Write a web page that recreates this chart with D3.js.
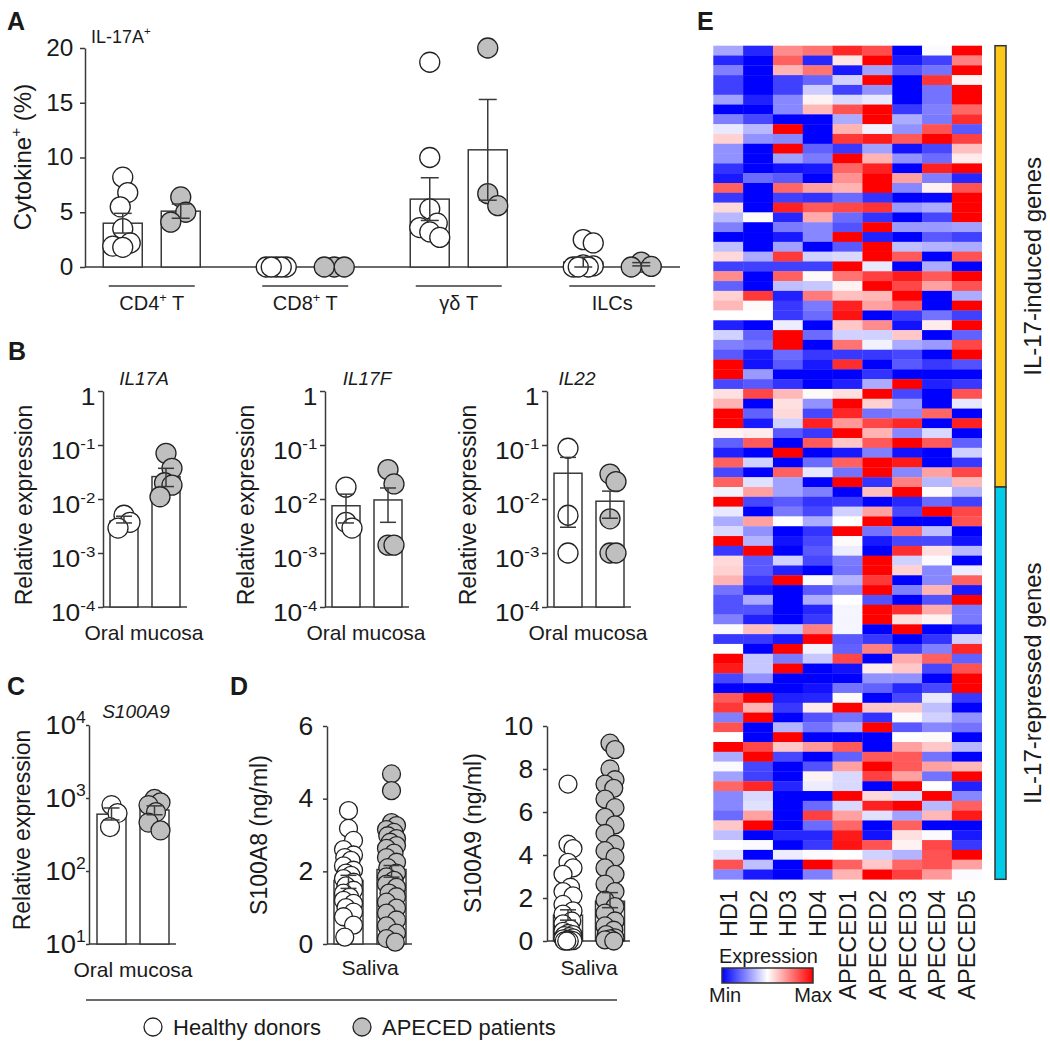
<!DOCTYPE html>
<html><head><meta charset="utf-8">
<script src="https://cdn.jsdelivr.net/npm/d3@7"></script>
<style>body{margin:0;background:#fff}svg{display:block}</style>
</head><body>
<svg id="fig" width="1050" height="1044"></svg>
<script>
// ================= DATA =================
const seriesNames = ["Healthy donors", "APECED patients"];

// Panel A: IL-17A+ cytokine %
const groupsA = ["CD4^{+} T", "CD8^{+} T", "γδ T", "ILCs"];
const aTicks = [0, 5, 10, 15, 20];
const aHDMean = [4.0, 0, 6.2, 0.45];
const aHDSem  = [0.9, 0, 1.95, 0.45];
const aAPMean = [5.1, 0, 10.7, 0.25];
const aAPSem  = [0.65, 0, 4.6, 0.15];
const aHDPoints = [[8.2, 6.8, 5.5, 3.5, 2.2, 1.9, 1.8], [0, 0, 0, 0, 0], [18.7, 10.0, 5.3, 4.0, 3.6, 3.2, 2.7], [2.5, 2.2, 0.2, 0.1, 0, 0, 0]];
const aAPPoints = [[6.4, 5.0, 4.1], [0, 0, 0], [20.0, 6.7, 5.6], [0.45, 0.05, 0]];

// Panel B: relative expression in oral mucosa (log)
const bGenes = ["IL17A", "IL17F", "IL22"];
const bTicks = [1e-4, 1e-3, 1e-2, 1e-1, 1];
const bTickLabels = ["10^{-4}", "10^{-3}", "10^{-2}", "10^{-1}", "1"];
const bHDMean = [0.0039, 0.0075, 0.030];
const bHDLow  = [0.0036, 0.0036, 0.003];
const bHDHigh = [0.0048, 0.0123, 0.059];
const bAPMean = [0.026, 0.0096, 0.0091];
const bAPLow  = [0.017, 0.0037, 0.0044];
const bAPHigh = [0.037, 0.016, 0.014];
const bHDPoints = [[0.005, 0.0037, 0.0029], [0.0166, 0.0037, 0.0029], [0.087, 0.005, 0.001]];
const bAPPoints = [[0.07, 0.037, 0.02, 0.018, 0.011], [0.035, 0.019, 0.0014, 0.0014], [0.029, 0.021, 0.0043, 0.001, 0.001]];

// Panel C: S100A9 relative expression (log)
const cTicks = [10, 100, 1000, 10000];
const cTickLabels = ["10^{1}", "10^{2}", "10^{3}", "10^{4}"];
const cHDMean = 600, cHDLow = 500, cHDHigh = 730;
const cAPMean = 685, cAPLow = 590, cAPHigh = 780;
const cHDPoints = [800, 620, 400];
const cAPPoints = [970, 870, 800, 640, 460, 360];

// Panel D: saliva proteins (ng/ml)
const d8Ticks = [0, 2, 4, 6];
const d8HDMean = 1.75, d8HDLow = 1.53, d8HDHigh = 1.89;
const d8APMean = 2.05, d8APLow = 1.84, d8APHigh = 2.16;
const d8HDPoints = [3.67, 3.18, 2.85, 2.6, 2.45, 2.38, 2.3, 2.15, 2.03, 1.95, 1.89, 1.8, 1.7, 1.6, 1.48, 1.4, 1.29, 1.2, 1.12, 1.0, 0.88, 0.75, 0.52, 0.19];
const d8APPoints = [4.68, 4.22, 3.34, 3.26, 3.15, 3.07, 2.98, 2.9, 2.8, 2.71, 2.63, 2.5, 2.38, 2.25, 2.1, 1.95, 1.85, 1.75, 1.65, 1.56, 1.4, 1.3, 1.15, 0.99, 0.85, 0.66, 0.5, 0.3, 0.15, 0.05];
const d9Ticks = [0, 2, 4, 6, 8, 10];
const d9HDMean = 1.2, d9HDLow = 0.97, d9HDHigh = 1.45;
const d9APMean = 1.85, d9APLow = 1.55, d9APHigh = 2.25;
const d9HDPoints = [7.3, 4.5, 4.3, 3.66, 3.4, 3.1, 2.5, 2.3, 2.1, 1.7, 1.4, 1.25, 0.93, 0.8, 0.55, 0.45, 0.35, 0.3, 0.25, 0.2, 0.15, 0.1, 0.1, 0.05, 0.05, 0.02, 0, 0, 0];
const d9APPoints = [9.2, 8.9, 8.0, 7.5, 7.3, 7.1, 6.6, 6.2, 5.75, 5.4, 5.0, 4.5, 4.2, 3.9, 3.4, 3.1, 2.65, 2.3, 1.9, 1.6, 1.3, 0.93, 0.7, 0.5, 0.3, 0.15, 0.1, 0.05, 0];

// Panel E: heatmap (scaled expression, -1 = min, 1 = max)
const heatSamples = ["HD1", "HD2", "HD3", "HD4", "APECED1", "APECED2", "APECED3", "APECED4", "APECED5"];
const geneGroups = ["IL-17-induced genes", "IL-17-repressed genes"];
const geneGroupSizes = [45, 40];
const heatValues = [
[-0.35,-0.85,0.45,0.55,0.85,0.7,-1,-0.02,1],
[-0.85,-1,0.62,-0.85,0.1,1,-0.9,-0.75,0.5],
[-0.5,-1,0.3,0.55,-0.9,-0.37,-0.68,-0.55,1],
[-0.75,-1,-0.75,-0.6,-0.18,1,-1,0.8,0.05],
[-0.75,-1,-0.75,-0.2,-0.75,-0.43,-1,-0.55,1],
[-0.37,-0.87,-0.47,0.05,-0.15,-0.09,-1,-0.55,1],
[-1,-1,-0.47,0.28,0.68,1,-0.78,-0.5,0.6],
[-0.5,-0.72,-1,-1,-0.33,1,-0.33,-0.52,0.82],
[-0.09,-0.28,1,-1,0.3,-0.05,-0.43,0.68,-0.65],
[0.18,-0.43,-0.47,-1,0.78,0.9,0.65,1,0.75],
[-0.43,-1,1,-0.62,-0.78,-0.37,-0.93,-0.72,0.25],
[-0.43,-1,-0.37,-0.52,1,0.3,-0.43,-0.58,0.08],
[-0.8,-1,-0.93,-0.9,0.6,0.87,-1,0.87,1],
[-0.9,-0.58,-0.65,-1,0.43,1,0.37,-0.5,-0.85],
[0.62,-1,0.6,0.37,0.3,1,-0.47,0.05,0.68],
[-0.78,-1,-0.75,-0.8,-0.58,-0.8,-1,-0.97,1],
[0.15,-1,0.87,0.65,0.72,0.8,-0.4,-0.33,1],
[-0.28,0.02,-0.85,0.33,-0.58,-0.8,-1,-0.72,1],
[-0.5,-1,-0.52,-0.47,-0.68,1,-0.4,-0.4,-0.37],
[-1,-1,-0.9,-0.47,1,-0.87,-1,-0.65,-0.75],
[-0.25,-1,-0.37,-1,-0.65,1,-0.25,-0.3,-0.33],
[0.15,-0.33,0.78,-0.18,-0.15,1,0.65,-1,0.68],
[-0.75,-0.75,-0.75,-0.75,1,-0.09,-1,-0.33,-1],
[0.45,-1,0.62,0.02,0.55,0.75,0.9,0.65,1],
[-0.62,-1,-0.25,-0.22,0.05,1,0.72,0.37,0.68],
[0.18,0.78,-0.87,0.52,0.25,0.28,1,-1,-0.33],
[0.28,0.02,-0.78,-0.52,0.87,0.37,0.65,-1,1],
[0,0,-0.78,-0.58,0.93,-1,-0.78,-0.55,-0.75],
[-0.87,-1,-0.07,-1,0.22,0.45,-0.93,0.08,1],
[-0.18,-0.62,1,-0.58,-0.18,-0.18,0.22,-1,-0.62],
[-0.5,-0.55,1,-1,0.55,-0.05,-0.33,-0.4,0.72],
[-0.65,-0.9,-0.58,-0.78,-0.78,-0.78,-0.72,-1,1],
[1,-0.93,-0.65,-0.9,0.82,-1,-0.65,-0.78,-0.68],
[1,-0.4,-1,-1,-1,-0.8,-1,-1,-1],
[-0.72,-0.65,-0.8,-1,-0.87,-0.33,1,-0.87,-0.78],
[0.12,0.72,0.28,0.02,0.12,1,-0.72,-1,0.68],
[0.3,-1,0.12,-0.43,1,0.18,-0.4,-1,-0.09],
[1,-0.62,0.15,-0.72,0.85,-0.55,-0.47,0.6,-1],
[1,-0.9,-0.18,0.87,0.4,0.72,0.85,-1,0.87],
[0.05,0.08,-0.65,-0.78,1,0.3,-0.47,-0.15,-1],
[-0.62,0.65,-1,0.65,0.22,0.65,1,0.65,-0.62],
[-0.87,-1,1,-1,-0.9,-0.5,-0.93,-1,-0.18],
[0.62,-0.18,-1,-0.58,0.62,1,0.9,-1,-0.78],
[-0.72,-1,0.62,-0.09,-0.55,1,-0.47,0.37,0.72],
[0.62,-0.12,-0.37,-1,1,-0.8,0.5,-0.28,0.28],
[-0.05,0.37,-0.37,-0.5,-1,0.25,1,0.02,-0.3],
[1,-0.72,-0.65,-0.8,-0.78,-1,-0.85,-0.58,-0.75],
[-0.09,-1,-0.52,-0.72,-0.18,0.37,-0.72,1,0.72],
[-0.33,0.37,0,-0.33,0,1,-1,-1,0.68],
[-0.15,-0.43,-1,-0.8,1,-0.55,0.6,-0.25,-1],
[1,-0.3,-0.93,-0.72,0.02,-0.9,-0.72,-0.72,-0.93],
[-0.78,1,-1,-0.65,-0.07,-1,0.82,0.12,-0.28],
[0.15,-0.65,-0.18,-0.72,-0.52,1,-0.18,-0.02,-1],
[0.18,-0.65,-0.87,-1,-0.55,1,0.18,-0.47,-0.07],
[0.3,-0.78,1,-0.02,-0.3,0.78,-1,-0.47,0.62],
[-0.55,-0.9,-1,-0.65,-0.47,1,-0.5,0.3,-0.9],
[-0.68,-0.33,-1,-0.33,0,-0.68,-1,-0.68,1],
[-0.68,-0.68,-1,-0.85,-0.04,1,0.82,0.33,-0.52],
[-0.5,-0.87,-1,-0.78,-0.04,1,0.12,0.05,-0.52],
[-0.02,0.25,-0.22,0.5,-0.04,-1,1,-1,-0.9],
[-0.78,-0.78,-0.9,1,-0.65,-0.78,-1,-0.8,-0.18],
[0,-1,1,-0.05,-0.62,0.5,-0.75,-0.5,0.85],
[1,-0.22,-0.52,-0.22,0.72,-1,0.33,0.62,-0.62],
[0.9,-0.22,1,-1,-0.93,0.08,0.22,-0.72,0.68],
[-0.72,-0.43,-1,-1,-1,-0.43,-0.43,-1,1],
[-1,-1,-1,-0.93,-0.55,-0.62,-0.85,-0.72,1],
[0.65,1,-0.87,-0.85,0.02,-1,-0.72,-0.09,-0.78],
[0.78,0.3,-0.78,0.08,1,0.22,0.22,-0.25,-1],
[-0.5,1,-1,-0.68,-0.55,-0.8,0.02,-0.18,-0.43],
[0.68,-1,-0.3,-0.55,-0.33,1,-0.65,-0.47,-0.55],
[0,-1,1,-1,-1,-1,0,0.02,-1],
[1,0.72,0.22,0.4,0.65,-1,0.37,0.22,-0.28],
[-0.33,1,-0.72,-1,-0.62,0.65,0.65,-0.55,-1],
[-0.02,-0.72,-1,-0.68,0.37,1,0.65,0.37,0.28],
[-0.37,-0.75,-1,0.05,-0.15,0.75,0.37,-0.55,1],
[0.6,0.85,-0.85,-0.07,-0.15,-1,1,0,-0.87],
[-0.47,-0.15,-1,-1,1,0.15,-0.15,1,-0.47],
[-0.47,-0.12,-1,-0.58,-0.15,0.87,1,-0.28,0.62],
[-0.58,0.37,-1,0.75,0.37,-0.12,-0.37,0.28,0.9],
[0.22,1,-1,-0.58,0.6,-1,0.62,-1,-1],
[-0.25,-1,-0.85,-0.85,0.9,-0.93,0.12,-0.02,-0.9],
[0,-0.02,-1,-0.78,0.93,0.68,0.05,0.72,-0.78],
[-0.12,-1,-0.07,-0.02,0,-0.18,-0.3,0.68,1],
[0.68,-0.25,-1,1,0.62,0.22,0.6,0.68,0.37],
[-0.47,-0.9,-1,-0.5,0.3,1,0.75,0.4,-0.02]
];

// ================= DRAWING =================
const FONT = '"Liberation Sans", Arial, Helvetica, sans-serif';
const INK = "#1a1a1a", LINE = "#3a3a3a", PT_STROKE = "#222";
const seriesFill = ["#ffffff", "#bfbfbf"];
const svg = d3.select("#fig");

function rich(t, str, fs) {
  const parts = str.split(/(\^\{[^}]*\})/).filter(s => s.length);
  let up = false;
  parts.forEach(p => {
    if (p.startsWith("^{")) {
      t.append("tspan").attr("font-size", fs * 0.64).attr("dy", -fs * 0.42).text(p.slice(2, -1));
      up = true;
    } else {
      const ts = t.append("tspan").attr("font-size", fs).text(p);
      if (up) { ts.attr("dy", fs * 0.42); up = false; }
    }
  });
}
function label(x, y, str, o = {}) {
  const fs = o.size || 20;
  const t = svg.append("text")
    .attr("transform", `translate(${x},${y})` + (o.sx ? ` scale(${o.sx},1)` : "") + (o.rotate ? ` rotate(${o.rotate})` : ""))
    .attr("text-anchor", o.anchor || "start").attr("font-size", fs).attr("fill", INK)
    .attr("font-family", o.family || FONT);
  if (o.weight) t.attr("font-weight", o.weight);
  if (o.italic) t.attr("font-style", "italic");
  rich(t, str, fs);
  return t;
}
function styleAxis(g, fs, fmt, shift, sx) {
  g.select(".domain").attr("stroke", LINE).attr("stroke-width", 1.5);
  g.selectAll(".tick line").attr("stroke", LINE).attr("stroke-width", 1.5);
  g.selectAll(".tick text").attr("fill", INK).attr("font-size", fs).attr("font-family", FONT)
    .each(function (d, i) {
      const s = d3.select(this);
      if (fmt) { s.text(null); rich(s, fmt(d, i), fs); }
      if (shift) s.attr("y", shift);
      if (sx) s.attr("transform", `scale(${sx},1)`);
    });
}
function dodge(ys, r, maxOff) {
  const placed = [], out = [];
  const step = Math.max(1, maxOff / 4);
  const cands = [0];
  for (let k = step; k <= maxOff + 1e-6; k += step) cands.push(k, -k);
  ys.forEach(y => {
    let best = 0, bestD = -1;
    for (const c of cands) {
      let md = Infinity;
      for (const p of placed) { const d = Math.hypot(p[0] - c, p[1] - y); if (d < md) md = d; }
      if (md >= 1.6 * r) { best = c; break; }
      if (md > bestD) { bestD = md; best = c; }
    }
    placed.push([best, y]); out.push(best);
  });
  return out;
}
// one series column: bar, points, error bar
function column(cx, y, base, mean, lo, hi, pts, s, r, bw, maxOff, cap) {
  const g = svg.append("g");
  if (mean > 0 && base - y(mean) > 0.5)
    g.append("rect").attr("x", cx - bw / 2).attr("y", y(mean)).attr("width", bw).attr("height", base - y(mean))
      .attr("fill", "#fff").attr("stroke", LINE).attr("stroke-width", 1.5);
  const ys = pts.map(v => y(v));
  const off = dodge(ys, r, maxOff);
  g.selectAll("circle.pt").data(pts).join("circle").attr("class", "pt")
    .attr("cx", (d, i) => cx + off[i]).attr("cy", (d, i) => ys[i]).attr("r", r)
    .attr("fill", seriesFill[s]).attr("stroke", PT_STROKE).attr("stroke-width", 1.3);
  if (hi > lo) {
    const e = g.append("g").attr("stroke", LINE).attr("stroke-width", 1.5);
    e.append("line").attr("x1", cx).attr("x2", cx).attr("y1", y(lo)).attr("y2", y(hi));
    [lo, hi].forEach(v => e.append("line").attr("x1", cx - cap / 2).attr("x2", cx + cap / 2).attr("y1", y(v)).attr("y2", y(v)));
  }
}

// ---------- Panel A ----------
label(7, 30, "A", { size: 25, weight: "bold" });
const yA = d3.scaleLinear().domain([0, 20]).range([267, 48]);
const xA = d3.scaleBand().domain(groupsA).range([75, 689]);
const subA = d3.scalePoint().domain(seriesNames).range([-29, 29]);
const axA = svg.append("g").attr("transform", "translate(85,0)")
  .call(d3.axisLeft(yA).tickValues(aTicks).tickSize(5).tickSizeOuter(0).tickPadding(6));
styleAxis(axA, 23, null, 0, 1.06);
svg.append("line").attr("x1", 85).attr("x2", 680).attr("y1", yA(0)).attr("y2", yA(0)).attr("stroke", LINE).attr("stroke-width", 1.5);
groupsA.forEach((gname, i) => {
  const c = xA(gname) + xA.bandwidth() / 2;
  column(c + subA(seriesNames[0]), yA, yA(0), aHDMean[i], aHDMean[i] - aHDSem[i], aHDMean[i] + aHDSem[i], aHDPoints[i], 0, 10, 39, 10, 18);
  column(c + subA(seriesNames[1]), yA, yA(0), aAPMean[i], aAPMean[i] - aAPSem[i], aAPMean[i] + aAPSem[i], aAPPoints[i], 1, 10, 39, 10, 18);
  svg.append("line").attr("x1", c - 43).attr("x2", c + 43).attr("y1", 286).attr("y2", 286).attr("stroke", LINE).attr("stroke-width", 1.5);
  label(c, 310, gname, { size: 20, anchor: "middle" });
});
label(91, 43, "IL-17A^{+}", { size: 18 });
label(31, 157, "Cytokine^{+} (%)", { size: 24, anchor: "middle", rotate: -90 });

// ---------- Panel B ----------
label(8, 360, "B", { size: 25, weight: "bold" });
const yB = d3.scaleLog().domain([1e-4, 1]).range([607, 391]);
const bX0 = [103, 325, 547];
const bTitleX = [41, 42, 30];
bGenes.forEach((gene, i) => {
  const x0 = bX0[i];
  const ax = svg.append("g").attr("transform", `translate(${x0},0)`)
    .call(d3.axisLeft(yB).tickValues(bTicks).tickSize(5).tickSizeOuter(0).tickPadding(2));
  styleAxis(ax, 24, (d) => bTickLabels[bTicks.indexOf(d)], 6, 1.1);
  svg.append("line").attr("x1", x0).attr("x2", x0 + 84).attr("y1", yB(1e-4)).attr("y2", yB(1e-4)).attr("stroke", LINE).attr("stroke-width", 1.5);
  column(x0 + 21, yB, yB(1e-4), bHDMean[i], bHDLow[i], bHDHigh[i], bHDPoints[i], 0, 10, 28, 6, 16);
  column(x0 + 63, yB, yB(1e-4), bAPMean[i], bAPLow[i], bAPHigh[i], bAPPoints[i], 1, 10, 28, 6, 16);
  label(x0 + bTitleX[i], 385, gene, { size: 19, anchor: "middle", italic: true });
  label(x0 - 71, 505, "Relative expression", { size: 23, anchor: "middle", rotate: -90 });
  label(x0 + 41, 640, "Oral mucosa", { size: 21, anchor: "middle" });
});

// ---------- Panel C ----------
label(7, 695, "C", { size: 25, weight: "bold" });
const yC = d3.scaleLog().domain([10, 1e4]).range([944, 725]);
{
  const x0 = 89;
  const ax = svg.append("g").attr("transform", `translate(${x0},0)`)
    .call(d3.axisLeft(yC).tickValues(cTicks).tickSize(3).tickSizeOuter(0).tickPadding(0));
  styleAxis(ax, 25, (d) => cTickLabels[cTicks.indexOf(d)], 0, 1.1);
  svg.append("line").attr("x1", x0).attr("x2", x0 + 87).attr("y1", yC(10)).attr("y2", yC(10)).attr("stroke", LINE).attr("stroke-width", 1.5);
  column(x0 + 22.5, yC, yC(10), cHDMean, cHDLow, cHDHigh, cHDPoints, 0, 9.5, 29, 6, 16);
  column(x0 + 65.5, yC, yC(10), cAPMean, cAPLow, cAPHigh, cAPPoints, 1, 9.5, 29, 6, 16);
  label(x0 + 47, 718, "S100A9", { size: 19, anchor: "middle", italic: true });
  label(x0 - 59, 830, "Relative expression", { size: 23, anchor: "middle", rotate: -90 });
  label(x0 + 44, 977, "Oral mucosa", { size: 21, anchor: "middle" });
}

// ---------- Panel D ----------
label(230, 695, "D", { size: 25, weight: "bold" });
const yD8 = d3.scaleLinear().domain([0, 6]).range([944, 726]);
const yD9 = d3.scaleLinear().domain([0, 10]).range([941, 726]);
const intFmt = d3.format("d");
{
  const x0 = 327;
  const ax = svg.append("g").attr("transform", `translate(${x0},0)`)
    .call(d3.axisLeft(yD8).tickValues(d8Ticks).tickFormat(intFmt).tickSize(4).tickSizeOuter(0).tickPadding(9));
  styleAxis(ax, 25, null, 0, 1.06);
  svg.append("line").attr("x1", x0).attr("x2", x0 + 85).attr("y1", yD8(0)).attr("y2", yD8(0)).attr("stroke", LINE).attr("stroke-width", 1.5);
  column(x0 + 21.5, yD8, yD8(0), d8HDMean, d8HDLow, d8HDHigh, d8HDPoints, 0, 9, 29, 5, 16);
  column(x0 + 64.5, yD8, yD8(0), d8APMean, d8APLow, d8APHigh, d8APPoints, 1, 9, 29, 5, 16);
  label(x0 - 60, 835, "S100A8 (ng/ml)", { size: 23, anchor: "middle", rotate: -90 });
  label(x0 + 43, 975, "Saliva", { size: 21, anchor: "middle" });
}
{
  const x0 = 547;
  const ax = svg.append("g").attr("transform", `translate(${x0},0)`)
    .call(d3.axisLeft(yD9).tickValues(d9Ticks).tickFormat(intFmt).tickSize(4).tickSizeOuter(0).tickPadding(9));
  styleAxis(ax, 25, null, 0, 1.06);
  svg.append("line").attr("x1", x0).attr("x2", x0 + 83).attr("y1", yD9(0)).attr("y2", yD9(0)).attr("stroke", LINE).attr("stroke-width", 1.5);
  column(x0 + 21, yD9, yD9(0), d9HDMean, d9HDLow, d9HDHigh, d9HDPoints, 0, 9, 29, 5, 16);
  column(x0 + 63, yD9, yD9(0), d9APMean, d9APLow, d9APHigh, d9APPoints, 1, 9, 29, 5, 16);
  label(x0 - 66, 833, "S100A9 (ng/ml)", { size: 23, anchor: "middle", rotate: -90 });
  label(x0 + 42, 975, "Saliva", { size: 21, anchor: "middle" });
}

// ---------- Legend (A-D) ----------
svg.append("line").attr("x1", 86).attr("x2", 617).attr("y1", 1000).attr("y2", 1000).attr("stroke", LINE).attr("stroke-width", 1.5);
const legX = [153, 362];
seriesNames.forEach((s, i) => {
  svg.append("circle").attr("cx", legX[i]).attr("cy", 1027).attr("r", 9).attr("fill", seriesFill[i]).attr("stroke", PT_STROKE).attr("stroke-width", 1.3);
  label(legX[i] + 20, 1035, s, { size: 22 });
});

// ---------- Panel E: heatmap ----------
label(697, 30, "E", { size: 25, weight: "bold" });
const xH = d3.scaleBand().domain(heatSamples).range([713.3, 981.7]);
const yH = d3.scaleBand().domain(d3.range(heatValues.length)).range([45.7, 879.3]);
const colorH = d3.scaleLinear().domain([-1, 0, 1]).range(["#0000ff", "#ffffff", "#ff0000"]).interpolate(d3.interpolateRgb);
const cells = [];
heatValues.forEach((row, i) => row.forEach((v, j) => cells.push({ i, j, v })));
svg.append("g").selectAll("rect").data(cells).join("rect")
  .attr("x", d => xH(heatSamples[d.j])).attr("y", d => yH(d.i))
  .attr("width", xH.bandwidth() + 0.3).attr("height", yH.bandwidth() + 0.3)
  .attr("fill", d => colorH(d.v));
heatSamples.forEach(s => {
  label(xH(s) + xH.bandwidth() / 2 + 8.5, 890, s, { size: 23.5, anchor: "end", rotate: -90 });
});
// gene group side bars
const groupColors = ["#ffc61a", "#00cbe8"];
let startRow = 0;
geneGroups.forEach((gname, k) => {
  const y0 = yH(startRow), y1 = yH(startRow + geneGroupSizes[k] - 1) + yH.bandwidth();
  svg.append("rect").attr("x", 995).attr("y", y0).attr("width", 11).attr("height", y1 - y0)
    .attr("fill", groupColors[k]).attr("stroke", "#333").attr("stroke-width", 1.5);
  label(1041, (y0 + y1) / 2, gname, { size: 24, anchor: "middle", rotate: -90 });
  startRow += geneGroupSizes[k];
});
// color legend
const defs = svg.append("defs");
const grad = defs.append("linearGradient").attr("id", "hgrad");
[-1, 0, 1].forEach((v, i) => grad.append("stop").attr("offset", (i * 50) + "%").attr("stop-color", colorH(v)));
svg.append("rect").attr("x", 722).attr("y", 968).attr("width", 91).attr("height", 15)
  .attr("fill", "url(#hgrad)").attr("stroke", "#333").attr("stroke-width", 1.5);
label(719, 963, "Expression", { size: 20 });
label(709, 1002, "Min", { size: 20 });
label(832, 1002, "Max", { size: 20, anchor: "end" });
</script>
</body></html>
